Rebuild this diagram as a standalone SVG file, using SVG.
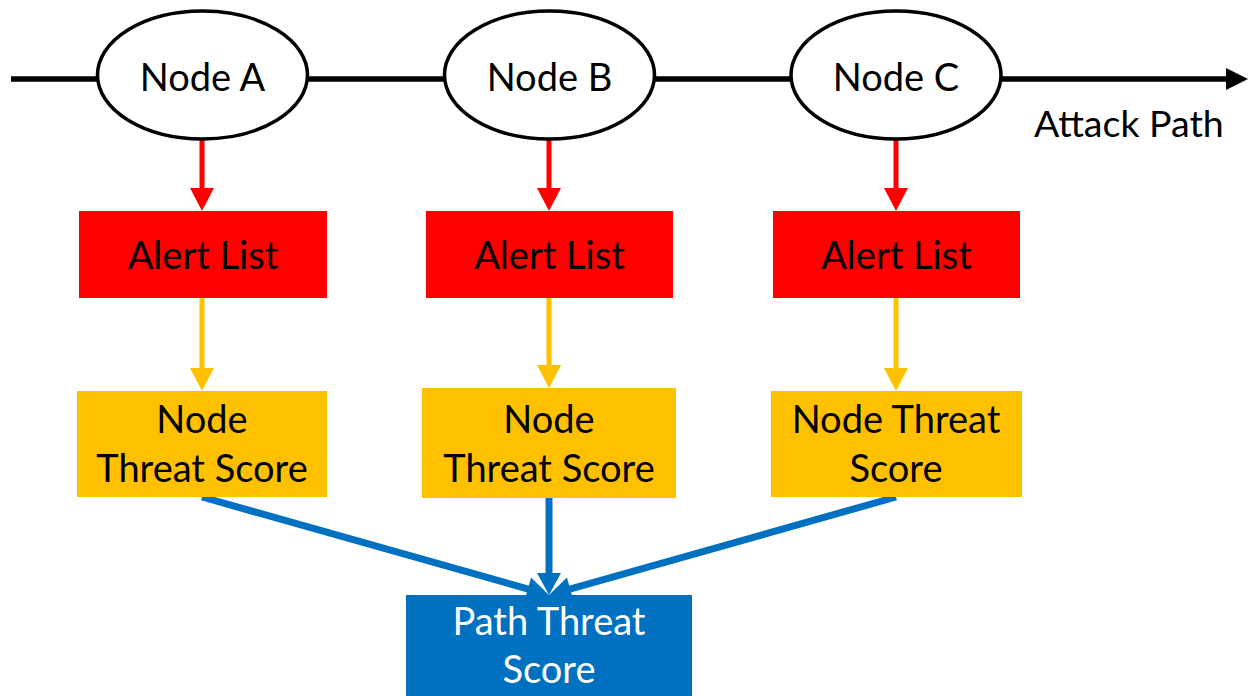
<svg xmlns="http://www.w3.org/2000/svg" width="1248" height="696" viewBox="0 0 1248 696">
<style>
text{font-family:Lato,"Open Sans","Liberation Sans",sans-serif;font-size:38px;text-anchor:middle;fill:#000}
.node ellipse{fill:#fff;stroke:#000;stroke-width:3.5}
.alert rect{fill:#FF0000}
.score rect{fill:#FFC000}
.path rect{fill:#0070C0}
.path text{fill:#fff}
.red{stroke:#FF0000;stroke-width:5;fill:none}
.yel{stroke:#FFC000;stroke-width:5;fill:none}
.blu{stroke:#0070C0;stroke-width:7;fill:none}
.redh{fill:#FF0000}.yelh{fill:#FFC000}.bluh{fill:#0070C0}
</style>
<rect width="1248" height="696" fill="#fff"/>
<g id="connectors">
<line x1="11" y1="79" x2="1228" y2="79" stroke="#000" stroke-width="5.5"/>
<polygon points="1226,68 1248,79 1226,90" fill="#000"/>
<line class="red" x1="202" y1="139" x2="202" y2="190"/>
<polygon class="redh" points="190,188 214,188 202,211"/>
<line class="red" x1="549" y1="139" x2="549" y2="190"/>
<polygon class="redh" points="537,188 561,188 549,211"/>
<line class="red" x1="896" y1="139" x2="896" y2="190"/>
<polygon class="redh" points="884,188 908,188 896,211"/>
<line class="yel" x1="202" y1="298" x2="202" y2="370"/>
<polygon class="yelh" points="190,368 214,368 202,391"/>
<line class="yel" x1="549" y1="298" x2="549" y2="367"/>
<polygon class="yelh" points="537,365 561,365 549,388"/>
<line class="yel" x1="896" y1="298" x2="896" y2="370"/>
<polygon class="yelh" points="884,368 908,368 896,391"/>
<line class="blu" x1="202" y1="497" x2="530" y2="589.6"/>
<polygon class="bluh" points="549,595 531.1,577.5 524.5,600.6"/>
<line class="blu" x1="549" y1="498" x2="549" y2="575"/>
<polygon class="bluh" points="537,573 561,573 549,595"/>
<line class="blu" x1="896" y1="497" x2="568" y2="589.6"/>
<polygon class="bluh" points="549,595 573.5,600.5 566.9,577.5"/>
</g>
<g id="nodeA" class="node"><ellipse cx="202.5" cy="75" rx="105" ry="64"/><text x="202.5" y="91">Node A</text></g>
<g id="nodeB" class="node"><ellipse cx="549.5" cy="75" rx="105" ry="64"/><text x="549.5" y="91">Node B</text></g>
<g id="nodeC" class="node"><ellipse cx="896" cy="75" rx="105" ry="64"/><text x="896" y="91">Node C</text></g>
<g id="attackPath"><text x="1034" y="137" style="text-anchor:start;font-size:37.5px">Attack Path</text></g>
<g id="alertA" class="alert"><rect x="79" y="211" width="248" height="87"/><text x="203" y="269">Alert List</text></g>
<g id="alertB" class="alert"><rect x="426" y="211" width="247" height="87"/><text x="549.5" y="269">Alert List</text></g>
<g id="alertC" class="alert"><rect x="773" y="211" width="247" height="87"/><text x="896.5" y="269">Alert List</text></g>
<g id="scoreA" class="score"><rect x="77" y="391" width="250" height="106"/><text x="202" y="433">Node</text><text x="202" y="482">Threat Score</text></g>
<g id="scoreB" class="score"><rect x="422" y="388" width="254" height="110"/><text x="549" y="433">Node</text><text x="549" y="482">Threat Score</text></g>
<g id="scoreC" class="score"><rect x="771" y="391" width="251" height="106"/><text x="896" y="433">Node Threat</text><text x="896" y="482">Score</text></g>
<g id="pathScore" class="path"><rect x="406" y="595" width="286" height="101"/><text x="549" y="635">Path Threat</text><text x="549" y="683">Score</text></g>
</svg>
